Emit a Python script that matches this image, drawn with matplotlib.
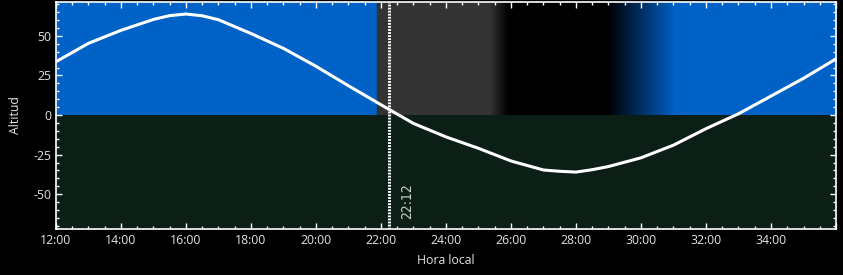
import numpy as np
import matplotlib
matplotlib.use('Agg')
import matplotlib.pyplot as plt
from matplotlib.ticker import MultipleLocator, FuncFormatter

plt.rcParams['font.family'] = ['Open Sans', 'DejaVu Sans']
plt.rcParams['axes.unicode_minus'] = False

# altitude curve (hours since midnight, degrees)
hours = [12, 13, 14, 15, 15.5, 16, 16.5, 17, 18, 19, 20, 21, 22, 23, 24,
         25, 26, 27, 27.5, 28, 28.5, 29, 30, 31, 32, 33, 34, 35, 36]
altitude = [33.7, 45.3, 53.5, 60.4, 62.8, 63.8, 62.7, 60.2, 51.5, 42.1, 30.8, 18.5, 6.5, -5.3, -13.8,
            -21.0, -29.0, -34.7, -35.5, -36.0, -34.5, -32.5, -27.0, -19.0, -8.6, 0.8, 12.0, 23.2, 35.5]

now_hour = 22.2
now_label = '22:12'

# sky colour stops: blue day, grey twilight, black night, back to blue
sky_hours = [12, 21.84, 21.86, 25.35, 25.9, 28.95, 31.05, 36]
sky_colors = ['#0061c7', '#0061c7', '#333333', '#333333', '#000000', '#000000', '#0061c7', '#0061c7']
ground_color = '#0c1f16'
text_color = '#e4e4e4'

fig = plt.figure(figsize=(8.43, 2.75), dpi=100, facecolor='black')
ax = fig.add_axes([0.0664, 0.167, 0.9253, 0.8263])
ax.set_facecolor('black')

xs = np.linspace(12, 36, 2400)
rgb = np.array([matplotlib.colors.to_rgb(c) for c in sky_colors])
strip = np.stack([np.interp(xs, sky_hours, rgb[:, i]) for i in range(3)], axis=-1)
ax.imshow(strip[np.newaxis, :, :], extent=[12, 36, 0, 72], aspect='auto',
          interpolation='nearest', zorder=0)
ax.axhspan(-72, 0, color=ground_color, zorder=0, lw=0)

ax.plot(hours, altitude, color='white', lw=2.2, zorder=3, solid_capstyle='round')

ax.axvline(now_hour + 0.05, color='white', lw=2.2, linestyle=(0, (0.6, 0.4)),
           dash_capstyle='butt', zorder=4)
ax.text(now_hour + 0.6, -54.5, now_label, rotation=90, ha='center', va='center',
        color='#c8d2c8', fontsize=10, family='DejaVu Sans', fontstretch='condensed')

ax.set_xlim(12, 36)
ax.set_ylim(-72, 71.5)
ax.xaxis.set_major_locator(MultipleLocator(2))
ax.xaxis.set_minor_locator(MultipleLocator(0.5))
ax.xaxis.set_major_formatter(FuncFormatter(lambda v, p: '%d:00' % v if v < 35.5 else ''))
ax.yaxis.set_major_locator(MultipleLocator(25))
ax.yaxis.set_minor_locator(MultipleLocator(5))

ax.tick_params(which='both', direction='in', colors='white', labelcolor=text_color,
               top=True, right=True, labelsize=8.8)
ax.tick_params(which='major', length=4.5, width=1)
ax.tick_params(which='minor', length=2.5, width=1)
for s in ax.spines.values():
    s.set_color('white')
    s.set_linewidth(1.2)

ax.set_xlabel('Hora local', color=text_color, fontsize=8.8, labelpad=5)
ax.set_ylabel('Altitud', color=text_color, fontsize=8.8, labelpad=8)

fig.savefig('out.png', dpi=100, facecolor='black')
